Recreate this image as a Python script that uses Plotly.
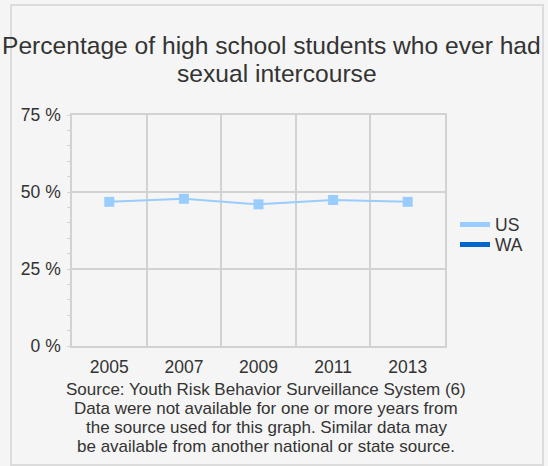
import plotly.graph_objects as go

years = ["2005", "2007", "2009", "2011", "2013"]
us_values = [46.8, 47.8, 46.0, 47.4, 46.8]
wa_values = [None, None, None, None, None]
y_ticks = [0, 25, 50, 75]
y_tick_labels = ["0 %", "25 %", "50 %", "75 %"]
title_lines = ["Percentage of high school students who ever had", "sexual intercourse"]
source_lines = [
    "Source: Youth Risk Behavior Surveillance System (6)",
    "Data were not available for one or more years from",
    "the source used for this graph. Similar data may",
    "be available from another national or state source.",
]

US_COLOR = "#99ccff"
WA_COLOR = "#0066cc"
GRID = "#d2d2d2"
TXT = "#333333"
FONT = "Liberation Sans, Arial, sans-serif"

W, H = 548, 466
L, R, T, B = 72, 103, 115, 120
PW = W - L - R
PH = H - T - B


def px_x(p):
    return (p - L) / PW


def px_y(p):
    return (H - B - p) / PH


fig = go.Figure()
fig.add_trace(go.Scatter(
    x=years, y=us_values, mode="lines+markers", name="US", showlegend=False,
    line=dict(color=US_COLOR, width=2),
    marker=dict(symbol="square", size=10, color=US_COLOR),
))
fig.add_trace(go.Scatter(
    x=[None], y=[None], mode="lines", name="US", legend="legend",
    line=dict(color=US_COLOR, width=5),
))
fig.add_trace(go.Scatter(
    x=years, y=wa_values, mode="lines", name="WA", legend="legend2",
    line=dict(color=WA_COLOR, width=5),
))

fig.add_shape(type="rect", xref="paper", yref="paper",
              x0=px_x(11), x1=px_x(543), y0=px_y(465), y1=px_y(5),
              line=dict(color="#dcdcdc", width=2), fillcolor="rgba(0,0,0,0)",
              layer="below")

fig.add_annotation(text=title_lines[0], xref="paper", yref="paper",
                   x=px_x(271.5), y=px_y(45), xanchor="center", yanchor="middle",
                   showarrow=False, font=dict(size=24.6, color=TXT, family=FONT))
fig.add_annotation(text=title_lines[1], xref="paper", yref="paper",
                   x=px_x(276.7), y=px_y(74), xanchor="center", yanchor="middle",
                   showarrow=False, font=dict(size=24.6, color=TXT, family=FONT))

for i, line in enumerate(source_lines):
    fig.add_annotation(text=line, xref="paper", yref="paper",
                       x=px_x(266), y=px_y(389 + 19 * i), xanchor="center", yanchor="middle",
                       showarrow=False, font=dict(size=17, color=TXT, family=FONT))

legend_style = dict(xanchor="left", yanchor="middle", bgcolor="rgba(0,0,0,0)",
                    font=dict(size=17.5, color=TXT, family=FONT), itemwidth=30)

fig.update_layout(
    width=W, height=H,
    margin=dict(l=L, r=R, t=T, b=B, pad=0),
    paper_bgcolor="#f5f5f5", plot_bgcolor="#f5f5f5",
    font=dict(family=FONT, color=TXT, size=17.5),
    legend=dict(x=px_x(455), y=px_y(224.5), **legend_style),
    legend2=dict(x=px_x(455), y=px_y(244.5), **legend_style),
    xaxis=dict(type="category", tickson="boundaries", showgrid=True, gridcolor=GRID,
               gridwidth=2, showline=True, linecolor=GRID, linewidth=1.5, mirror=True,
               ticks="", tickfont=dict(size=17.5, color=TXT), range=[-0.5, 4.5],
               ticklabelstandoff=4),
    yaxis=dict(range=[0, 75], tickvals=y_ticks, ticktext=y_tick_labels,
               showgrid=True, gridcolor=GRID, gridwidth=2, zeroline=False,
               showline=True, linecolor=GRID, linewidth=1.5, mirror=True,
               ticks="outside", ticklen=3, tickcolor=GRID,
               minor=dict(dtick=5, ticks="outside", ticklen=3, tickcolor=GRID, showgrid=False),
               tickfont=dict(size=17.5, color=TXT), ticklabelstandoff=3),
)

fig.write_html(
    "out.html",
    config={"displayModeBar": False},
    post_script="document.body.style.margin='0';document.body.style.background='#f5f5f5';",
)
